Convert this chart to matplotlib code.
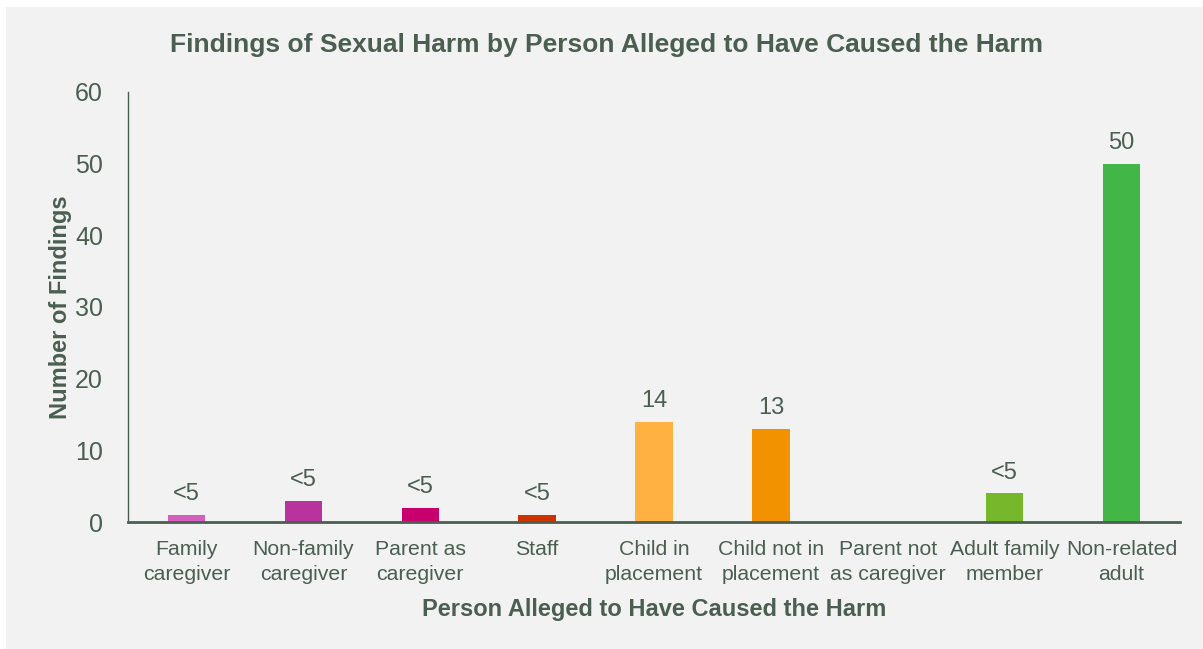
import matplotlib.pyplot as plt
from matplotlib.patches import Rectangle

categories = ["Family\ncaregiver", "Non-family\ncaregiver", "Parent as\ncaregiver", "Staff",
              "Child in\nplacement", "Child not in\nplacement", "Parent not\nas caregiver",
              "Adult family\nmember", "Non-related\nadult"]
findings = [1, 3, 2, 1, 14, 13, 0, 4, 50]
bar_labels = ["<5", "<5", "<5", "<5", "14", "13", "", "<5", "50"]
colors = ["#d35fbe", "#b8339d", "#c8006e", "#cc3300", "#ffb142", "#f29200",
          "#999999", "#77b72b", "#43b648"]
yticks = [0, 10, 20, 30, 40, 50, 60]

text_col = "#4a5f50"
plt.rcParams["font.family"] = ["Liberation Sans", "DejaVu Sans"]

fig = plt.figure(figsize=(12.03, 6.49), dpi=100, facecolor="white")
# light grey chart area with thin white border on top/left
fig.patches.append(Rectangle((6 / 1203, 0), 1 - 6 / 1203, 1 - 7 / 649,
                             transform=fig.transFigure, facecolor="#f2f2f2",
                             edgecolor="none", zorder=-10))

ax = fig.add_axes([128 / 1203, 1 - 522 / 649, (1180 - 128) / 1203, (522 - 92) / 649])
ax.set_facecolor("none")

x = range(len(categories))
bars = ax.bar(x, findings, width=0.32, color=colors, zorder=2)
for b, lab in zip(bars, bar_labels):
    if lab:
        ax.annotate(lab, (b.get_x() + b.get_width() / 2, b.get_height()),
                    xytext=(0, 7), textcoords="offset points", ha="center",
                    va="bottom", fontsize=17, color=text_col)

ax.set_xlim(-0.5, len(categories) - 0.5)
ax.set_ylim(0, 60)
ax.set_yticks(yticks)
ax.set_xticks(list(x))
ax.set_xticklabels(categories, fontsize=15.3, color=text_col, linespacing=1.4)
ax.tick_params(axis="y", labelsize=18, colors=text_col, length=0, pad=18)
ax.tick_params(axis="x", length=0, pad=13)

for s in ["top", "right"]:
    ax.spines[s].set_visible(False)
ax.spines["left"].set_color(text_col)
ax.spines["left"].set_linewidth(1)
ax.spines["bottom"].set_color(text_col)
ax.spines["bottom"].set_linewidth(2)

ax.set_xlabel("Person Alleged to Have Caused the Harm", fontsize=17,
              fontweight="bold", color=text_col, labelpad=10)
ax.set_ylabel("Number of Findings", fontsize=17, fontweight="bold",
              color=text_col, labelpad=2)
fig.text(607 / 1203, 1 - 45 / 649, "Findings of Sexual Harm by Person Alleged to Have Caused the Harm",
         ha="center", va="center", fontsize=19, fontweight="bold", color=text_col)

fig.savefig("out.png", dpi=100, facecolor=fig.get_facecolor())
